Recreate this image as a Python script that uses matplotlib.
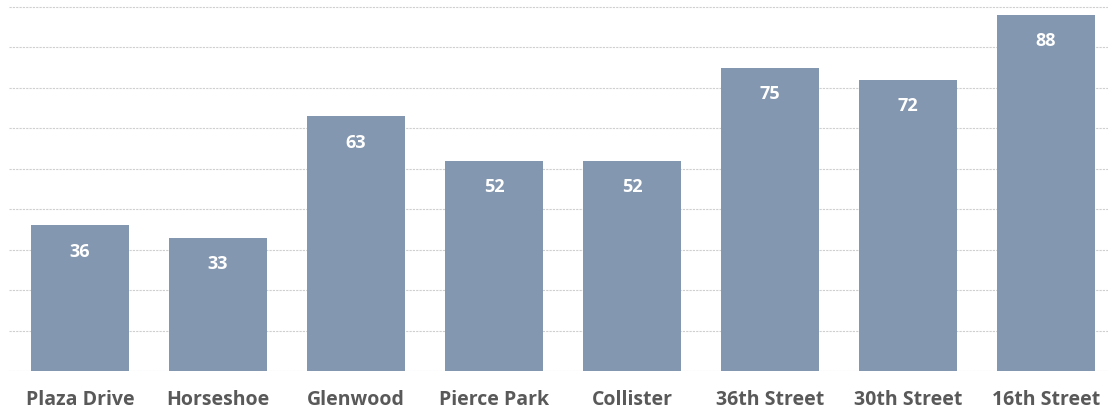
import matplotlib.pyplot as plt
import numpy as np

# data
stations = ['Plaza Drive', 'Horseshoe', 'Glenwood', 'Pierce Park', 'Collister',
            '36th Street', '30th Street', '16th Street']
values = [36, 33, 63, 52, 52, 75, 72, 88]
grid_ticks = list(range(0, 100, 10))

bar_color = '#8497B0'
label_color = '#595959'

plt.rcParams['font.family'] = ['Open Sans', 'DejaVu Sans']

fig = plt.figure(figsize=(11.08, 4.13), dpi=100)
W, H = 1108, 413
ax = fig.add_axes([9 / W, 42 / H, 1099 / W, 366 / H])

x = np.arange(len(stations))
bars = ax.bar(x, values, width=0.71, color=bar_color, zorder=2)

for b, v in zip(bars, values):
    ax.annotate(str(v), (b.get_x() + b.get_width() / 2, v), xytext=(0, -19),
                textcoords='offset points', ha='center', va='center',
                color='white', fontsize=13, fontweight='bold')

ax.set_xlim(-0.514, 7.449)
ax.set_ylim(0, 90.5)
ax.set_yticks(grid_ticks)
ax.yaxis.grid(True, color='#cfcfcf', linestyle=(0, (2, 1)), linewidth=0.8, zorder=0)
ax.set_axisbelow(True)
ax.tick_params(axis='y', left=False, labelleft=False)
ax.tick_params(axis='x', length=0, pad=14)
ax.set_xticks(x)
ax.set_xticklabels(stations, fontsize=14, fontweight='bold', color=label_color)
for s in ax.spines.values():
    s.set_visible(False)

fig.savefig('out.png', dpi=100)
